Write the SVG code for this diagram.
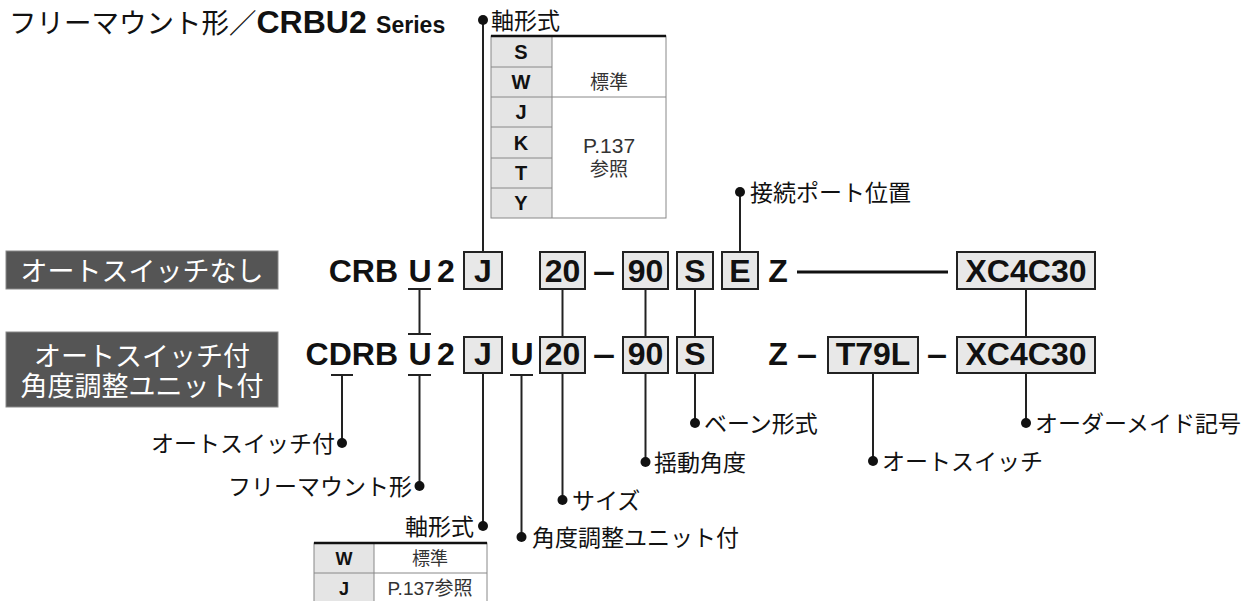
<svg xmlns="http://www.w3.org/2000/svg" width="1255" height="601" viewBox="0 0 1255 601">
<style>
.jp{font-family:"Noto Sans CJK JP","Noto Sans",sans-serif;fill:#111}
.lbl{font-family:"Noto Sans CJK JP","Noto Sans",sans-serif;font-size:23px;fill:#111}
.code{font-family:"Liberation Sans",Arial,sans-serif;font-weight:bold;font-size:32px;fill:#111}
.tcode{font-family:"Liberation Sans",Arial,sans-serif;font-weight:bold;font-size:20px;fill:#111;text-anchor:middle}
.tdesc{font-family:"Liberation Sans","Noto Sans CJK JP",sans-serif;font-size:20px;fill:#333;text-anchor:middle}
.box{fill:#e8e8e8;stroke:#222;stroke-width:2}
.dark{fill:#555555;stroke:#888;stroke-width:1}
.wt{font-family:"Noto Sans CJK JP","Noto Sans",sans-serif;font-size:27px;fill:#fff;text-anchor:middle}
.ln{stroke:#222;stroke-width:2;fill:none}
.grid{stroke:#888;stroke-width:1;fill:none}
.dot{fill:#111}
.mid{text-anchor:middle}
.end{text-anchor:end}
</style>

<g id="title">
<text x="9" y="33" class="jp" style="font-size:27.5px">フリーマウント形／<tspan style="font-family:'Liberation Sans',Arial,sans-serif;font-weight:bold;font-size:32px">CRBU2</tspan><tspan style="font-family:'Liberation Sans',Arial,sans-serif;font-weight:bold;font-size:23px" dx="3"> Series</tspan></text>
</g>

<g id="shaft-table-top">
<rect x="491" y="36" width="61" height="182" fill="#e5e5e5"/>
<rect x="491" y="36" width="175" height="182" class="grid"/>
<line x1="552" y1="36" x2="552" y2="218" class="grid"/>
<line x1="491" y1="67" x2="552" y2="67" class="grid"/>
<line x1="491" y1="97" x2="666" y2="97" class="grid"/>
<line x1="491" y1="127" x2="552" y2="127" class="grid"/>
<line x1="491" y1="158" x2="552" y2="158" class="grid"/>
<line x1="491" y1="188" x2="552" y2="188" class="grid"/>
<line x1="491" y1="36" x2="666" y2="36" stroke="#111" stroke-width="2.5"/>
<text x="521" y="58.5" class="tcode">S</text>
<text x="521" y="89" class="tcode">W</text>
<text x="521" y="119" class="tcode">J</text>
<text x="521" y="149.5" class="tcode">K</text>
<text x="521" y="180" class="tcode">T</text>
<text x="521" y="210" class="tcode">Y</text>
<text x="609" y="89" class="tdesc" style="font-size:19px">標準</text>
<text x="609" y="153" class="tdesc" style="font-size:21px">P.137</text>
<text x="609" y="176" class="tdesc" style="font-size:19px">参照</text>
</g>

<g id="shaft-table-bottom">
<rect x="314" y="543" width="60" height="62" fill="#e5e5e5"/>
<rect x="314" y="543" width="173" height="62" class="grid"/>
<line x1="374" y1="543" x2="374" y2="605" class="grid"/>
<line x1="314" y1="573" x2="487" y2="573" class="grid"/>
<line x1="314" y1="543" x2="487" y2="543" stroke="#111" stroke-width="2.5"/>
<text x="344" y="565" class="tcode" style="font-size:18px">W</text>
<text x="344" y="595" class="tcode" style="font-size:18px">J</text>
<text x="430" y="565" class="tdesc" style="font-size:18px">標準</text>
<text x="430" y="595" class="tdesc" style="font-size:19px">P.137参照</text>
</g>

<g id="row1-tag">
<rect x="6" y="251" width="272" height="38" class="dark"/>
<text x="142" y="281" class="wt">オートスイッチなし</text>
</g>
<g id="row2-tag">
<rect x="6" y="332" width="272" height="75" class="dark"/>
<text x="142" y="366" class="wt">オートスイッチ付<tspan x="142" dy="30">角度調整ユニット付</tspan></text>
</g>

<g id="row1">
<text x="398" y="282" class="code end">CRB</text>
<text x="420" y="282" class="code mid">U</text>
<text x="446" y="282" class="code mid">2</text>
<g id="r1-J"><rect x="464" y="252" width="38" height="37" class="box"/><text x="483" y="282" class="code mid">J</text></g>
<g id="r1-20"><rect x="540" y="252" width="45" height="37" class="box"/><text x="562.5" y="282" class="code mid">20</text></g>
<text x="593" y="282" class="code" textLength="22" lengthAdjust="spacingAndGlyphs">–</text>
<g id="r1-90"><rect x="623" y="252" width="45" height="37" class="box"/><text x="645.5" y="282" class="code mid">90</text></g>
<g id="r1-S"><rect x="677" y="252" width="36" height="37" class="box"/><text x="695" y="282" class="code mid">S</text></g>
<g id="r1-E"><rect x="722" y="252" width="36" height="37" class="box"/><text x="740" y="282" class="code mid">E</text></g>
<text x="778" y="282" class="code mid">Z</text>
<g id="r1-XC"><rect x="957" y="252" width="138" height="37" class="box"/><text x="1026" y="282" class="code mid">XC4C30</text></g>
</g>

<g id="row2">
<text x="398" y="365" class="code end">CDRB</text>
<text x="420" y="365" class="code mid">U</text>
<text x="446" y="365" class="code mid">2</text>
<g id="r2-J"><rect x="464" y="337" width="38" height="36" class="box"/><text x="483" y="365" class="code mid">J</text></g>
<text x="522" y="365" class="code mid">U</text>
<g id="r2-20"><rect x="540" y="337" width="45" height="36" class="box"/><text x="562.5" y="365" class="code mid">20</text></g>
<text x="593" y="365" class="code" textLength="22" lengthAdjust="spacingAndGlyphs">–</text>
<g id="r2-90"><rect x="623" y="337" width="45" height="36" class="box"/><text x="645.5" y="365" class="code mid">90</text></g>
<g id="r2-S"><rect x="677" y="337" width="36" height="36" class="box"/><text x="695" y="365" class="code mid">S</text></g>
<text x="778" y="365" class="code mid">Z</text>
<text x="797" y="365" class="code" textLength="20" lengthAdjust="spacingAndGlyphs">–</text>
<g id="r2-T79L"><rect x="828" y="337" width="90" height="36" class="box"/><text x="873" y="365" class="code mid">T79L</text></g>
<text x="927" y="365" class="code" textLength="20" lengthAdjust="spacingAndGlyphs">–</text>
<g id="r2-XC"><rect x="957" y="337" width="138" height="36" class="box"/><text x="1026" y="365" class="code mid">XC4C30</text></g>
</g>

<g id="connectors">
<line x1="797" y1="272" x2="948" y2="272" stroke="#111" stroke-width="3"/>
<line x1="408" y1="289" x2="431" y2="289" class="ln"/>
<line x1="419.5" y1="289" x2="419.5" y2="334" class="ln"/>
<line x1="408" y1="334" x2="431" y2="334" class="ln"/>
<line x1="562.5" y1="289" x2="562.5" y2="337" class="ln"/>
<line x1="645.5" y1="289" x2="645.5" y2="337" class="ln"/>
<line x1="695" y1="289" x2="695" y2="337" class="ln"/>
<line x1="1026" y1="289" x2="1026" y2="337" class="ln"/>
<line x1="483" y1="252" x2="483" y2="20" class="ln"/>
<line x1="740" y1="252" x2="740" y2="192" class="ln"/>
<line x1="331" y1="375" x2="353" y2="375" class="ln"/>
<line x1="342" y1="375" x2="342" y2="443" class="ln"/>
<line x1="408" y1="375" x2="431" y2="375" class="ln"/>
<line x1="419.5" y1="375" x2="419.5" y2="486" class="ln"/>
<line x1="483" y1="373" x2="483" y2="526" class="ln"/>
<line x1="510" y1="375" x2="533" y2="375" class="ln"/>
<line x1="521.5" y1="375" x2="521.5" y2="537" class="ln"/>
<line x1="562.5" y1="373" x2="562.5" y2="500" class="ln"/>
<line x1="645.5" y1="373" x2="645.5" y2="462" class="ln"/>
<line x1="695" y1="373" x2="695" y2="423" class="ln"/>
<line x1="873" y1="373" x2="873" y2="461" class="ln"/>
<line x1="1026" y1="373" x2="1026" y2="423" class="ln"/>
<circle cx="483" cy="20" r="5" class="dot"/>
<circle cx="740" cy="192" r="5" class="dot"/>
<circle cx="342" cy="443" r="5" class="dot"/>
<circle cx="419.5" cy="486" r="5" class="dot"/>
<circle cx="483" cy="526" r="5" class="dot"/>
<circle cx="521.5" cy="537" r="5" class="dot"/>
<circle cx="562.5" cy="500" r="5" class="dot"/>
<circle cx="645.5" cy="462" r="5" class="dot"/>
<circle cx="695" cy="423" r="5" class="dot"/>
<circle cx="873" cy="461" r="5" class="dot"/>
<circle cx="1026" cy="423" r="5" class="dot"/>
</g>

<g id="labels">
<text x="491" y="29" class="lbl">軸形式</text>
<text x="750" y="201" class="lbl">接続ポート位置</text>
<text x="704" y="432" class="lbl">ベーン形式</text>
<text x="654" y="471" class="lbl">揺動角度</text>
<text x="572" y="509" class="lbl">サイズ</text>
<text x="532" y="546" class="lbl">角度調整ユニット付</text>
<text x="882" y="470" class="lbl">オートスイッチ</text>
<text x="1035" y="432" class="lbl">オーダーメイド記号</text>
<text x="335" y="452" class="lbl end">オートスイッチ付</text>
<text x="412" y="495" class="lbl end">フリーマウント形</text>
<text x="474" y="535" class="lbl end">軸形式</text>
</g>
</svg>
